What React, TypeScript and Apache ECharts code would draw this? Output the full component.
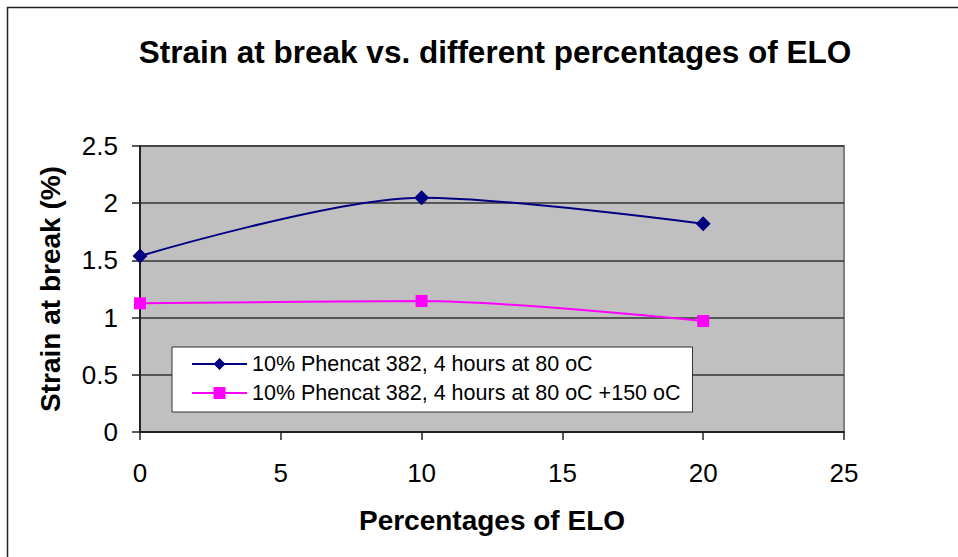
import React, { useEffect, useRef } from "react";
import * as echarts from "echarts";

const TITLE = "Strain at break vs. different percentages of ELO";
const X_NAME = "Percentages of ELO";
const Y_NAME = "Strain at break (%)";
const ELO_PERCENT = [0, 10, 20];
const SERIES1_NAME = "10% Phencat 382, 4 hours at 80 oC";
const SERIES1 = [1.538, 2.048, 1.821];
const SERIES2_NAME = "10% Phencat 382, 4 hours at 80 oC +150 oC";
const SERIES2 = [1.125, 1.145, 0.97];

const FONT = "Arial, 'Liberation Sans', sans-serif";

export default function App() {
  const ref = useRef<HTMLDivElement>(null);
  useEffect(() => {
    if (!ref.current) return;
    const chart = echarts.init(ref.current, null, { renderer: "svg" });
    const pairs = (vals: number[]) => ELO_PERCENT.map((x, i) => [x, vals[i]]);
    chart.setOption({
      animation: false,
      backgroundColor: "#ffffff",
      title: {
        text: TITLE,
        left: 490,
        top: 31,
        textAlign: "center",
        textStyle: { fontFamily: FONT, fontSize: 31.5, fontWeight: "bold", color: "#000" },
      },
      graphic: [
        {
          type: "rect",
          shape: { x: 7.5, y: 7.5, width: 1100, height: 700 },
          style: { fill: "none", stroke: "#222", lineWidth: 1.5 },
          silent: true,
          z: 100,
        },
      ],
      legend: {
        left: 172,
        top: 347,
        orient: "vertical",
        backgroundColor: "#ffffff",
        borderColor: "#333",
        borderWidth: 1,
        padding: [6, 12, 8, 19],
        itemWidth: 55,
        itemHeight: 15,
        itemGap: 7,
        textStyle: { fontFamily: FONT, fontSize: 21.5, color: "#000", lineHeight: 22 },
        data: [SERIES1_NAME, SERIES2_NAME],
      },
      grid: {
        left: 140,
        top: 146,
        right: 114,
        bottom: 125,
        show: true,
        backgroundColor: "#C0C0C0",
        borderColor: "#808080",
        borderWidth: 2,
      },
      xAxis: {
        type: "value",
        min: 0,
        max: 25,
        interval: 5,
        name: X_NAME,
        nameLocation: "middle",
        nameGap: 74,
        nameTextStyle: { fontFamily: FONT, fontSize: 28, fontWeight: "bold", color: "#000" },
        axisLine: { show: true, onZero: false, lineStyle: { color: "#222", width: 2 } },
        axisTick: { show: true, length: 8, lineStyle: { color: "#222", width: 1.5 } },
        axisLabel: { fontFamily: FONT, fontSize: 26, color: "#000", margin: 28 },
        splitLine: { show: false },
      },
      yAxis: {
        type: "value",
        min: 0,
        max: 2.5,
        interval: 0.5,
        name: Y_NAME,
        nameLocation: "middle",
        nameGap: 76,
        nameTextStyle: { fontFamily: FONT, fontSize: 28, fontWeight: "bold", color: "#000" },
        axisLine: { show: true, lineStyle: { color: "#222", width: 2 } },
        axisTick: { show: true, length: 8, lineStyle: { color: "#222", width: 1.5 } },
        axisLabel: { fontFamily: FONT, fontSize: 26, color: "#000", margin: 22 },
        splitLine: { show: true, lineStyle: { color: "#333", width: 1.5 } },
      },
      series: [
        {
          name: SERIES1_NAME,
          type: "line",
          data: pairs(SERIES1),
          smooth: 0.3,
          symbol: "diamond",
          symbolSize: 15,
          lineStyle: { color: "#000080", width: 2 },
          itemStyle: { color: "#000080" },
          z: 3,
        },
        {
          name: SERIES2_NAME,
          type: "line",
          data: pairs(SERIES2),
          smooth: 0.3,
          symbol: "rect",
          symbolSize: 12,
          lineStyle: { color: "#FF00FF", width: 2 },
          itemStyle: { color: "#FF00FF" },
          z: 3,
        },
      ],
    });
    return () => chart.dispose();
  }, []);
  return (
    <div
      ref={ref}
      style={{ position: "fixed", left: 0, top: 0, width: 958, height: 557 }}
    />
  );
}
